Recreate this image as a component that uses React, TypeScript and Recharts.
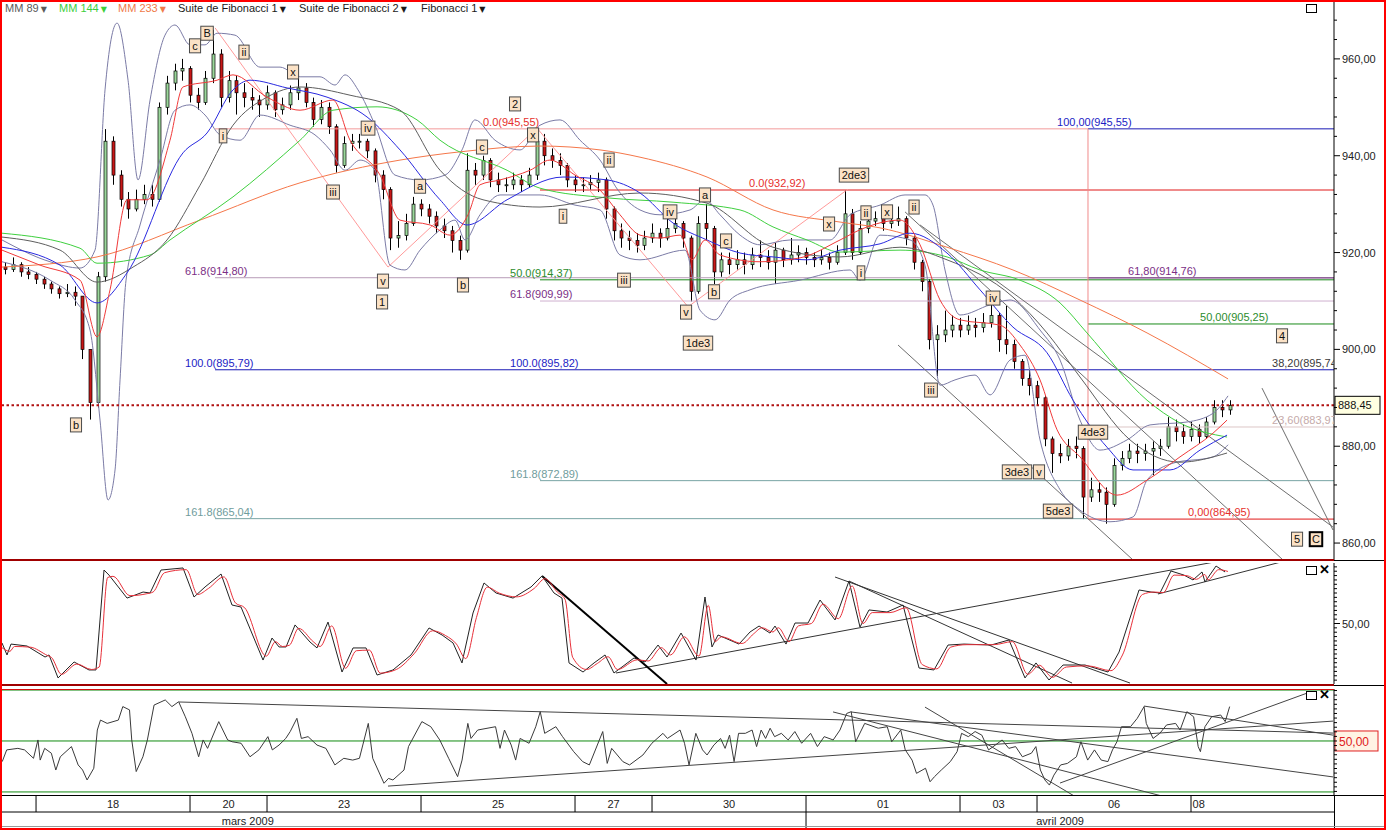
import React from "react";
import { ComposedChart, Bar, Line, Scatter, XAxis, YAxis, ReferenceLine } from "recharts";

const FONT = "'Liberation Sans', Arial, sans-serif";
const W = 1386;

// time axis in trading days: 1 = start of 18 mars
const T_MIN = 0.558;
const T_MAX = 17.857;
const X_DOMAIN = [T_MIN, T_MAX];

// candles every 0.1 day from t=0.6, [high, low, close]
const CANDLE_T0 = 0.6;
const CANDLE_STEP = 0.1;
const FIRST_OPEN = 917;
const PRICE_HLC = [
  [918, 915.5, 916.5], [919, 916, 917.5], [918, 915, 916], [917, 914.5, 915.5], [916, 913.5, 914.5],
  [915, 912.5, 913.5], [914, 911.5, 912.5], [913, 910.5, 911.5], [913.5, 910.8, 911.8], [913, 909, 911],
  [911, 898, 900], [900, 885.5, 889], [916, 888, 915], [945.5, 914, 943], [944, 934, 936],
  [937, 929.5, 931], [932.5, 927, 929], [933, 928.5, 931], [934, 930, 932], [934, 929.5, 931],
  [951, 930.5, 950], [956.5, 948.5, 955], [959, 953.5, 957.5], [960, 955.5, 958], [958.5, 951, 952.5],
  [954, 949.5, 951], [957.5, 950.5, 956], [966, 955, 961], [962, 950, 952], [957.5, 951, 955.5],
  [956.5, 948.5, 953], [955, 950, 952], [954, 949.5, 951.5], [952.5, 948, 950.5], [954.5, 949.5, 953],
  [953.5, 948, 949.5], [952, 948.5, 950.5], [954.5, 949.5, 953], [956, 951.5, 954], [955, 950, 951],
  [952, 946, 947.5], [951.5, 946.5, 950], [951, 944.5, 946], [946.5, 936.5, 938], [944, 937.5, 942.5],
  [944.5, 941, 943], [944.5, 941.5, 943], [943.5, 939.5, 941], [941.5, 934.5, 936], [937, 931, 933],
  [933.5, 920.5, 923], [926.5, 921, 923.5], [928, 922.5, 926], [931.5, 925.5, 930], [931, 927.5, 929],
  [930, 926, 927.5], [928.5, 924, 925.5], [927, 923, 924.5], [925.5, 920, 922.5], [923.5, 918.5, 920.5],
  [940.5, 920, 937], [938.5, 934, 936], [940, 935, 939], [939.5, 933.5, 935], [936.5, 932.5, 934],
  [935.5, 932.5, 934], [936.5, 933, 935], [936, 932.5, 934], [937.5, 933.5, 936], [945.5, 935, 943],
  [944.5, 938, 940], [941.5, 937.5, 939], [940.5, 936, 938], [938.5, 933.5, 935], [936, 932.5, 934],
  [935.5, 932.5, 934], [936, 933, 934.5], [936.5, 932.5, 935], [935.5, 927, 929], [929.5, 922.5, 924.5],
  [926, 921, 923], [924.5, 920.5, 922.5], [924, 920, 921.5], [924.5, 920.5, 923], [926, 922, 924],
  [925, 921, 923], [927, 922.5, 925], [928, 924, 926], [926.5, 921, 923], [923.5, 909.9, 912],
  [927.5, 911.5, 926], [930, 922.5, 925], [925.5, 913.5, 916], [920, 915, 918.5], [920, 915.5, 917.5],
  [920.5, 916.5, 918.5], [920, 915.5, 917.5], [921, 916.5, 919.5], [922.5, 917, 919], [920.5, 916.5, 918],
  [922, 913.5, 920.5], [921, 917, 918.5], [923, 917.5, 919.5], [921.5, 918, 920], [921, 917.5, 919],
  [920, 917, 918.5], [920.5, 917.5, 919], [920, 916.5, 918], [921.5, 917.5, 920], [932.9, 919.5, 928],
  [929, 918.5, 920], [926.5, 919.5, 925], [928, 924, 926.5], [928.5, 925.5, 927], [928, 924.5, 926],
  [928, 925, 926.5], [929.5, 925.5, 927], [927.5, 921.5, 923], [923.5, 916.5, 918], [918.5, 912, 914],
  [914.5, 900, 902], [905, 894.5, 903], [908, 901.5, 904], [907, 902.5, 905], [906.5, 902.5, 904],
  [907, 903, 905], [906.5, 902.5, 904.5], [907.5, 903.5, 905.5], [909.5, 904.5, 907], [907.5, 899.5, 902],
  [909, 899, 901], [902, 896, 897.5], [898, 892.5, 894], [896, 890.5, 892.5], [893.5, 888.5, 890],
  [890.5, 880, 881.5], [882, 874.5, 878.5], [880.5, 876.5, 878], [881.5, 877, 880], [882, 877.5, 879.5],
  [880, 864.95, 869.5], [873.5, 868.5, 871], [872.5, 868.5, 870.5], [871.5, 864, 868], [877.5, 867.5, 876],
  [879, 875, 877.5], [880.5, 876.5, 879], [880.5, 876.5, 878.5], [880.5, 877, 879], [881, 874, 879.5],
  [881.5, 878, 880], [886, 879.5, 884], [885.5, 881, 883], [884.5, 880.5, 882], [885, 881, 883.5],
  [884.5, 880.5, 882], [886, 881.5, 885], [889.5, 884.5, 888], [889.5, 886, 887.5], [889.5, 886.5, 888.45],
];
const LAST_PRICE = 888.45;

// moving averages and bands, [t, price]
const MM_FAST = [
  [0.558, 920.5], [1.052, 917.4], [1.571, 914.3], [1.792, 902.6], [1.961, 912.3], [2.182, 930.9], [2.442, 930.9],
  [2.74, 943.2], [2.909, 954.2], [3.351, 955.6], [3.558, 956.7], [4.0, 952.1], [4.429, 949.4], [4.857, 951.5],
  [5.078, 943.2], [5.468, 936.0], [5.727, 926.7], [6.117, 925.7], [6.377, 923.6], [6.61, 927.8], [6.766, 934.0],
  [7.026, 935.0], [7.416, 937.0], [7.675, 939.1], [8.0, 936.0], [8.325, 932.9], [8.584, 927.8], [8.844, 923.6],
  [9.104, 923.0], [9.364, 923.6], [9.519, 918.5], [9.688, 922.6], [9.883, 919.5], [10.403, 918.1], [10.922, 918.9],
  [11.442, 922.6], [11.701, 924.7], [12.221, 926.7], [12.481, 921.6], [12.74, 910.2], [13.0, 906.1], [13.519, 905.0],
  [13.779, 900.9], [14.039, 893.7], [14.26, 883.4], [14.558, 877.8], [15.039, 869.9], [15.429, 873.0], [15.857, 877.8],
  [16.286, 882.7], [16.468, 885.4],
];
const MM_BLUE = [
  [0.558, 921.1], [1.312, 917.4], [1.792, 909.6], [2.182, 915.8], [2.909, 940.6], [3.221, 944.7], [3.558, 953.6],
  [3.779, 955.6], [4.26, 954.0], [4.779, 952.1], [5.299, 948.0], [5.727, 941.2], [6.247, 930.9], [6.597, 925.7],
  [7.117, 930.9], [7.844, 935.6], [8.416, 935.0], [8.844, 932.3], [9.273, 926.1], [9.714, 922.6], [10.143, 919.9],
  [10.571, 919.1], [11.013, 918.5], [11.442, 920.5], [11.961, 921.8], [12.351, 924.0], [12.831, 919.9], [13.26, 912.3],
  [13.688, 904.6], [14.13, 899.3], [14.468, 889.5], [14.909, 879.8], [15.247, 875.1], [15.727, 875.1], [16.117, 879.2],
  [16.468, 882.3],
];
const MM_89 = [
  [0.558, 923.2], [1.312, 920.5], [1.792, 913.9], [2.26, 917.0], [2.701, 922.6], [3.13, 933.9], [3.558, 946.3],
  [4.0, 952.1], [4.429, 954.2], [5.078, 952.5], [5.727, 949.4], [6.247, 937.0], [6.805, 930.9], [7.545, 929.4],
  [8.844, 932.3], [9.714, 930.2], [10.571, 921.1], [11.442, 919.1], [12.221, 921.1], [12.831, 918.5], [13.688, 910.8],
  [14.13, 903.4], [14.558, 894.3], [15.208, 881.3], [15.857, 876.7], [16.468, 878.6],
];
const MM_144 = [
  [0.558, 924.0], [1.571, 920.9], [1.792, 917.8], [2.481, 919.5], [2.74, 922.6], [3.558, 931.5], [4.429, 943.2],
  [4.857, 949.4], [5.429, 950.1], [5.948, 947.4], [6.247, 943.2], [7.117, 937.0], [7.545, 933.3], [8.416, 931.3],
  [9.273, 930.4], [10.143, 928.8], [10.571, 925.3], [11.013, 922.6], [11.442, 920.1], [12.221, 920.5], [12.831, 919.1],
  [13.26, 916.4], [13.779, 914.3], [14.299, 909.6], [14.649, 903.4], [15.429, 889.5], [15.857, 884.8], [16.468, 881.9],
];
const MM_233 = [
  [0.558, 917.0], [1.792, 919.1], [3.13, 926.7], [4.429, 934.4], [5.727, 939.1], [6.506, 940.8], [7.545, 942.0],
  [8.325, 941.2], [8.844, 939.7], [9.714, 935.6], [10.571, 928.8], [11.442, 926.3], [11.961, 925.1], [12.831, 921.1],
  [13.688, 916.4], [14.558, 910.2], [15.429, 903.4], [16.481, 893.9],
];
const BB_UPPER = [
  [0.558, 922.6], [1.182, 918.1], [1.571, 916.8], [1.766, 920.5], [1.896, 953.6], [2.052, 967.4], [2.195, 955.6],
  [2.325, 935.0], [2.481, 951.5], [2.675, 964.9], [2.805, 967.0], [3.0, 962.9], [3.195, 962.9], [3.351, 965.3],
  [3.584, 964.9], [3.909, 958.3], [4.169, 958.3], [4.429, 956.3], [4.688, 956.3], [4.883, 954.6], [5.013, 956.7],
  [5.182, 953.6], [5.403, 946.3], [5.662, 936.0], [5.987, 935.0], [6.312, 936.0], [6.532, 941.2], [6.701, 947.4],
  [6.961, 943.2], [7.286, 941.2], [7.545, 946.3], [7.805, 947.4], [8.065, 943.2], [8.325, 939.1], [8.558, 932.9],
  [8.844, 928.8], [9.104, 927.8], [9.494, 928.8], [9.688, 930.9], [9.883, 927.8], [10.143, 923.6], [10.403, 921.6],
  [10.792, 922.6], [11.312, 922.6], [11.571, 927.8], [11.961, 929.8], [12.286, 931.9], [12.545, 931.9], [12.649, 929.8],
  [12.805, 916.4], [13.0, 907.1], [13.39, 909.2], [13.649, 910.2], [14.039, 904.0], [14.299, 897.8], [14.558, 885.4],
  [14.818, 879.2], [15.169, 881.3], [15.468, 884.4], [15.948, 885.0], [16.286, 886.8], [16.481, 890.4],
];
const BB_LOWER = [
  [0.558, 918.1], [1.182, 914.3], [1.506, 910.2], [1.701, 904.0], [1.831, 885.4], [1.935, 868.9], [2.026, 875.1],
  [2.091, 893.7], [2.169, 914.3], [2.351, 925.7], [2.61, 939.1], [2.805, 949.4], [3.0, 950.5], [3.195, 948.4],
  [3.39, 944.3], [3.649, 943.2], [3.909, 948.4], [4.299, 946.3], [4.623, 944.3], [4.818, 941.2], [5.013, 937.0],
  [5.208, 939.1], [5.403, 937.0], [5.597, 917.4], [5.792, 916.4], [5.987, 920.5], [6.247, 924.7], [6.442, 926.7],
  [6.571, 922.6], [6.766, 927.8], [7.026, 931.9], [7.545, 931.9], [8.0, 929.8], [8.325, 928.8], [8.584, 919.5],
  [8.844, 918.5], [9.429, 920.5], [9.623, 908.1], [9.818, 906.1], [10.013, 910.2], [10.273, 912.3], [10.922, 914.3],
  [11.571, 916.4], [11.701, 914.3], [11.961, 923.6], [12.351, 922.6], [12.545, 917.4], [12.74, 892.6], [12.935, 893.7],
  [13.195, 894.7], [13.39, 890.6], [13.649, 897.8], [13.844, 898.8], [14.039, 881.3], [14.299, 871.0], [14.558, 866.8],
  [14.948, 864.4], [15.247, 865.4], [15.429, 873.0], [15.766, 876.5], [16.286, 877.8], [16.481, 880.3],
];

// fibonacci levels: from t, to t, price
const FIB_LEVELS = [
  { from: 3.325, to: 14.662, price: 945.55, kind: "redPale" },
  { from: 14.662, to: T_MAX, price: 945.55, kind: "blue" },
  { from: 7.545, to: T_MAX, price: 932.92, kind: "red" },
  { from: 3.325, to: T_MAX, price: 914.8, kind: "mauve" },
  { from: 14.662, to: T_MAX, price: 914.76, kind: "purple" },
  { from: 7.545, to: T_MAX, price: 914.37, kind: "green" },
  { from: 7.545, to: T_MAX, price: 909.99, kind: "lilac" },
  { from: 14.662, to: T_MAX, price: 905.25, kind: "green" },
  { from: 3.325, to: T_MAX, price: 895.79, kind: "blue" },
  { from: 14.662, to: T_MAX, price: 883.97, kind: "rose" },
  { from: 7.545, to: T_MAX, price: 872.89, kind: "teal" },
  { from: 3.325, to: 14.662, price: 865.04, kind: "teal" },
  { from: 14.662, to: T_MAX, price: 864.95, kind: "red" },
];
const FIB_TEXTS = [
  { t: 6.805, p: 945.55, text: "0.0(945,55)", kind: "red" },
  { t: 10.26, p: 932.92, text: "0.0(932,92)", kind: "red" },
  { t: 2.935, p: 914.8, text: "61.8(914,80)", kind: "purple" },
  { t: 2.935, p: 895.79, text: "100.0(895,79)", kind: "blue" },
  { t: 2.935, p: 865.04, text: "161.8(865,04)", kind: "teal" },
  { t: 7.156, p: 914.37, text: "50.0(914,37)", kind: "green" },
  { t: 7.156, p: 909.99, text: "61.8(909,99)", kind: "purple" },
  { t: 7.156, p: 895.82, text: "100.0(895,82)", kind: "blue" },
  { t: 7.156, p: 872.89, text: "161.8(872,89)", kind: "teal" },
  { t: 14.26, p: 945.55, text: "100,00(945,55)", kind: "blue" },
  { t: 15.182, p: 914.76, text: "61,80(914,76)", kind: "purple" },
  { t: 16.117, p: 905.25, text: "50,00(905,25)", kind: "green" },
  { t: 17.052, p: 895.74, text: "38,20(895,74", kind: "dark" },
  { t: 17.052, p: 883.97, text: "23,60(883,97", kind: "rose" },
  { t: 15.961, p: 864.95, text: "0,00(864,95)", kind: "red" },
];
const FIB_VERTICAL = [14.662, 945.55, 864.95];

const WAVE_LABELS = [
  { t: 1.519, p: 884.4, text: "b" }, { t: 3.065, p: 962.7, text: "c" }, { t: 3.221, p: 965.3, text: "B" },
  { t: 3.701, p: 961.4, text: "ii" }, { t: 3.429, p: 944.1, text: "i" }, { t: 4.338, p: 957.3, text: "x" },
  { t: 5.312, p: 945.7, text: "iv" }, { t: 4.857, p: 932.5, text: "iii" }, { t: 5.987, p: 933.7, text: "a" },
  { t: 5.506, p: 914.1, text: "v" }, { t: 5.494, p: 909.8, text: "1" }, { t: 6.545, p: 913.3, text: "b" },
  { t: 7.221, p: 950.7, text: "2" }, { t: 6.792, p: 941.8, text: "c" }, { t: 7.455, p: 944.3, text: "x" },
  { t: 7.844, p: 927.5, text: "i" }, { t: 8.442, p: 939.1, text: "ii" }, { t: 8.636, p: 914.3, text: "iii" },
  { t: 9.234, p: 928.4, text: "iv" }, { t: 9.688, p: 931.9, text: "a" }, { t: 9.961, p: 922.4, text: "c" },
  { t: 9.805, p: 911.9, text: "b" }, { t: 9.442, p: 907.7, text: "v" }, { t: 9.597, p: 901.3, text: "1de3" },
  { t: 11.299, p: 925.9, text: "x" }, { t: 11.623, p: 936.0, text: "2de3" }, { t: 11.779, p: 928.2, text: "ii" },
  { t: 12.052, p: 928.4, text: "x" }, { t: 12.403, p: 929.4, text: "ii" }, { t: 11.714, p: 915.8, text: "i" },
  { t: 13.429, p: 910.6, text: "iv" }, { t: 12.623, p: 891.6, text: "iii" }, { t: 14.727, p: 882.9, text: "4de3" },
  { t: 13.74, p: 874.7, text: "3de3" }, { t: 14.026, p: 874.7, text: "v" }, { t: 14.273, p: 866.6, text: "5de3" },
  { t: 17.182, p: 902.8, text: "4" }, { t: 17.377, p: 860.8, text: "5" }, { t: 17.623, p: 860.8, text: "C" },
];
// [t1, p1, t2, p2]
const WAVE_LINES = [
  [3.325, 966.4, 5.571, 917.0], [5.571, 917.0, 7.506, 945.7],
  [7.506, 945.7, 9.468, 908.8], [9.468, 908.8, 11.545, 933.1],
];
const PRICE_TRENDS = [
  [12.195, 900.9, 15.247, 856.5], [12.286, 928.4, 17.195, 856.5],
  [12.481, 925.7, 17.844, 863.3], [16.922, 892.0, 17.844, 862.7],
];

// stochastic pane, [t, value]
const STOCH_K = [
  [0.558, 33.9], [0.623, 24], [0.675, 33], [0.883, 31.4], [1.117, 22.3], [1.169, 24], [1.286, 5], [1.494, 18.2],
  [1.688, 11.6], [1.779, 11.6], [1.883, 94.2], [1.948, 90], [2.182, 71], [2.39, 76], [2.481, 75.2], [2.623, 94.2],
  [2.909, 95.9], [3.052, 71.9], [3.195, 80.2], [3.403, 90.9], [3.545, 65.3], [3.662, 63.6], [3.948, 19.8], [4.065, 38],
  [4.156, 30.6], [4.247, 30.6], [4.364, 48.8], [4.558, 34.7], [4.649, 29.8], [4.792, 51.2], [4.974, 9.9], [5.117, 29.8],
  [5.286, 29.8], [5.429, 7.4], [5.636, 11.6], [5.87, 24], [6.104, 46.3], [6.273, 40.5], [6.416, 33.9], [6.532, 17.4],
  [6.675, 58.7], [6.818, 83.5], [6.974, 75.2], [7.195, 71], [7.429, 80.2], [7.571, 89.3], [7.727, 75.2], [7.831, 71],
  [7.922, 17.4], [8.104, 9.9], [8.247, 17.4], [8.39, 24], [8.506, 9.1], [8.766, 21.5], [8.909, 18.2], [9.078, 32.2],
  [9.195, 22.3], [9.377, 42.1], [9.571, 19.8], [9.688, 71.9], [9.779, 30.6], [9.857, 40.5], [10.13, 33], [10.273, 43],
  [10.39, 47.9], [10.532, 42.1], [10.597, 47.9], [10.74, 33], [10.857, 50.4], [11.026, 50.4], [11.182, 69.4], [11.377, 52.9],
  [11.558, 85.1], [11.701, 47.1], [11.818, 61.2], [12.052, 59.5], [12.26, 65.3], [12.468, 13.2], [12.662, 11.6], [12.844, 32.2],
  [13.052, 33], [13.403, 32.2], [13.636, 36.4], [13.844, 5], [13.987, 17.4], [14.156, 3.3], [14.338, 15.7], [14.623, 15.7],
  [14.922, 9.9], [15.065, 26.4], [15.325, 77.7], [15.481, 76], [15.597, 75.2], [15.74, 93.4], [15.909, 90], [16.026, 86],
  [16.143, 92.6], [16.182, 84.3], [16.325, 97.5], [16.442, 92.6],
];
const STOCH_D = [
  [0.558, 30], [0.66, 27], [0.72, 31], [0.92, 30.5], [1.15, 23.5], [1.2, 22], [1.33, 8], [1.53, 16.5], [1.72, 12],
  [1.82, 14], [1.93, 88], [2.0, 89], [2.22, 73], [2.43, 74.5], [2.52, 76], [2.67, 92], [2.95, 94.5], [3.1, 74],
  [3.24, 79], [3.44, 88.5], [3.59, 67], [3.71, 63], [3.99, 23], [4.11, 35], [4.2, 31], [4.29, 32], [4.41, 46],
  [4.6, 35], [4.69, 31], [4.84, 48], [5.02, 13], [5.16, 27.5], [5.33, 28], [5.47, 9], [5.68, 12], [5.91, 25],
  [6.15, 44], [6.32, 40], [6.46, 33], [6.58, 21], [6.72, 55], [6.86, 80], [7.02, 75], [7.24, 72], [7.47, 79],
  [7.61, 87], [7.77, 76], [7.87, 70], [7.97, 22], [8.15, 12], [8.29, 17], [8.43, 22.5], [8.55, 12], [8.81, 20],
  [8.95, 19], [9.12, 30], [9.24, 24], [9.42, 39], [9.61, 23], [9.73, 65], [9.82, 35], [9.9, 39], [10.17, 33.5],
  [10.32, 41.5], [10.43, 46.5], [10.57, 43], [10.64, 46.5], [10.78, 35], [10.9, 48], [11.07, 50], [11.22, 66],
  [11.42, 54], [11.6, 81], [11.74, 50], [11.86, 59], [12.09, 59], [12.3, 63], [12.51, 16], [12.7, 12.5], [12.88, 30.5],
  [13.09, 32.5], [13.44, 32.5], [13.68, 35], [13.88, 8], [14.03, 15.5], [14.2, 5.5], [14.38, 14], [14.66, 15],
  [14.96, 11], [15.11, 24], [15.37, 74], [15.52, 76], [15.64, 75.5], [15.78, 90], [15.95, 89.5], [16.07, 86.5],
  [16.18, 90.5], [16.22, 86], [16.36, 94.5], [16.48, 93],
];
const STOCH_BREAK = [7.571, 89.3, 9.195, 0];
const STOCH_TRENDS = [
  [8.532, 9.1, 16.377, 101.7], [11.377, 88.4, 15.208, 0.8],
  [11.558, 85.1, 14.455, 0.8], [15.571, 74.4, 17.221, 101.7],
];

// lower oscillator, [t, value]
const OSC = [
  [0.561, 41.9], [0.619, 46.5], [0.764, 47.1], [0.851, 46.5], [0.967, 43.2], [1.025, 50.4], [1.054, 42.5], [1.112, 47.1],
  [1.199, 45.2], [1.257, 38.6], [1.315, 43.8], [1.46, 47.8], [1.547, 40.6], [1.605, 38.6], [1.663, 34.7], [1.75, 39.3],
  [1.796, 54.3], [1.837, 58.2], [1.924, 56.9], [2.069, 58.2], [2.127, 63.5], [2.214, 62.2], [2.243, 50.4], [2.301, 38.0],
  [2.388, 43.8], [2.446, 50.4], [2.533, 64.1], [2.678, 66.1], [2.765, 63.5], [2.852, 65.4], [2.939, 59.5], [3.025, 53.0],
  [3.112, 43.8], [3.17, 50.4], [3.228, 47.1], [3.373, 57.6], [3.489, 50.4], [3.547, 49.7], [3.663, 49.1], [3.779, 43.8],
  [3.895, 46.5], [4.011, 51.7], [4.069, 46.5], [4.156, 48.4], [4.243, 51.0], [4.301, 53.7], [4.388, 58.9], [4.446, 51.0],
  [4.533, 51.7], [4.649, 48.4], [4.765, 47.1], [4.881, 40.6], [4.997, 43.2], [5.113, 42.5], [5.2, 43.2], [5.315, 56.9],
  [5.373, 43.2], [5.519, 33.4], [5.577, 35.3], [5.635, 34.7], [5.779, 38.6], [5.837, 47.8], [6.011, 57.6], [6.127, 55.6],
  [6.243, 50.4], [6.359, 43.2], [6.475, 36.0], [6.533, 42.5], [6.608, 56.9], [6.649, 51.0], [6.736, 54.3], [6.968, 55.6],
  [7.026, 47.1], [7.084, 54.3], [7.171, 48.4], [7.229, 42.5], [7.287, 51.0], [7.403, 49.1], [7.49, 55.6], [7.548, 61.5],
  [7.606, 53.0], [7.751, 55.6], [7.838, 51.7], [7.983, 45.8], [8.099, 41.9], [8.186, 40.6], [8.36, 53.7], [8.418, 41.2],
  [8.476, 47.1], [8.621, 41.9], [8.708, 40.6], [8.882, 44.5], [8.998, 49.1], [9.142, 53.0], [9.2, 51.0], [9.364, 54.3],
  [9.422, 49.1], [9.481, 40.6], [9.569, 53.0], [9.656, 46.5], [9.715, 44.5], [9.803, 48.4], [9.89, 51.0], [9.949, 47.1],
  [10.007, 52.3], [10.066, 41.9], [10.124, 53.0], [10.212, 53.0], [10.3, 54.3], [10.358, 47.8], [10.417, 54.3], [10.475, 51.0],
  [10.534, 55.0], [10.592, 51.7], [10.68, 53.0], [10.768, 50.4], [10.855, 53.7], [10.943, 49.1], [11.06, 53.0], [11.148, 47.8],
  [11.236, 51.7], [11.353, 50.4], [11.441, 54.3], [11.528, 60.8], [11.587, 61.5], [11.645, 49.7], [11.762, 56.9], [11.938, 55.0],
  [12.055, 55.6], [12.113, 49.7], [12.23, 54.3], [12.289, 46.5], [12.377, 42.5], [12.435, 37.3], [12.552, 39.3], [12.611, 34.0],
  [12.669, 36.0], [12.757, 38.6], [12.874, 41.9], [12.962, 45.8], [13.02, 53.0], [13.108, 51.7], [13.196, 53.7], [13.283, 52.3],
  [13.371, 46.5], [13.459, 48.4], [13.547, 50.4], [13.634, 47.1], [13.722, 47.8], [13.81, 43.8], [13.927, 45.2], [13.985, 47.8],
  [14.044, 38.6], [14.102, 34.7], [14.161, 32.7], [14.219, 36.6], [14.307, 40.6], [14.395, 41.2], [14.512, 43.8], [14.57, 49.7],
  [14.658, 42.5], [14.746, 46.5], [14.834, 42.5], [14.921, 41.9], [14.98, 46.5], [15.038, 49.7], [15.097, 55.6], [15.214, 55.6],
  [15.302, 58.9], [15.39, 63.5], [15.419, 56.9], [15.507, 51.0], [15.595, 53.0], [15.683, 56.3], [15.8, 56.9], [15.858, 54.3],
  [15.946, 61.5], [16.034, 59.5], [16.093, 47.8], [16.122, 45.8], [16.181, 55.6], [16.268, 59.5], [16.385, 60.2], [16.444, 57.6],
  [16.502, 63.5],
];
const OSC_LEVELS = [30, 50, 70];
const OSC_TRENDS = [
  [2.857, 65.3, 17.844, 53.1], [5.571, 32.3, 17.844, 57.8], [11.351, 61.4, 15.675, 28.0],
  [12.545, 63.3, 14.506, 28.0], [11.584, 61.4, 17.844, 35.9], [14.299, 33.5, 17.545, 69.2],
  [15.39, 63.7, 17.844, 52.3],
];

// date axis
const DAY_TEXTS = [["18", 2], ["20", 3.5], ["23", 5], ["25", 7], ["27", 8.5], ["30", 10], ["01", 12], ["03", 13.5], ["06", 15], ["08", 16.1]];
const DAY_BREAKS = [1, 3, 4, 6, 8, 9, 11, 13, 14, 16];
const MONTH_TEXTS = [["mars 2009", 3.75], ["avril 2009", 14.3]];
const MONTH_BREAK = 11;

const LINE_COLORS: any = {
  redPale: "#f39a9a", red: "#e01818", blue: "#1818b4", mauve: "#b89cb8", purple: "#6a2a7a",
  green: "#1a8a1a", lilac: "#cfb0cf", rose: "#dcc6c6", teal: "#78a5a5",
};
const TEXT_COLORS: any = {
  red: "#e6302c", purple: "#7b2f86", green: "#2c8c2c", blue: "#1c1cc4", teal: "#6f9c9c", dark: "#3a3a3a", rose: "#c5aaaa",
};

const candleRows = PRICE_HLC.map(([h, l, c], i) => ({
  t: +(CANDLE_T0 + i * CANDLE_STEP).toFixed(2),
  o: i === 0 ? FIRST_OPEN : PRICE_HLC[i - 1][2],
  h, l, c,
}));
const pts = (arr: number[][], key = "p") => arr.map(([t, v]) => ({ t, [key]: v }));

const fmt = (v: number) => v.toFixed(2).replace(".", ",");
const PRICE_TICKS = Array.from({ length: 28 }, (_, i) => 860 + i * 4);
const STOCH_TICKS = Array.from({ length: 29 }, (_, i) => 50 + (i - 14) * 3.6).filter((v) => v >= 0 && v <= 100);
const OSC_TICKS = Array.from({ length: 25 }, (_, i) => 50 + (i - 12) * 1.8).filter((v) => v > 28.8 && v < 70.4);

function Candle(props: any) {
  const { x, y, width, height, payload } = props;
  if (x == null || !payload) return null;
  const top = Math.min(y, y + height);
  const span = Math.abs(height);
  const range = payload.h - payload.l || 1;
  const py = (v: number) => top + ((payload.h - v) / range) * span;
  const cx = Math.round(x + width / 2) + 0.5;
  const yo = py(payload.o);
  const yc = py(payload.c);
  const up = payload.c >= payload.o;
  return (
    <g>
      <line x1={cx} x2={cx} y1={top} y2={top + span} stroke="#000" strokeWidth={1} />
      <rect x={cx - 1.5} y={Math.min(yo, yc)} width={3} height={Math.max(1, Math.abs(yo - yc))}
        fill={up ? "#9bd79b" : "#c81818"} stroke="#000" strokeWidth={0.7} />
    </g>
  );
}

function boxWidth(s: string) {
  let w = 5;
  for (const ch of s) w += ch === "i" ? 2.6 : ch === "B" || ch === "C" ? 7.5 : 6.1;
  return w;
}

function WaveBox(props: any) {
  const { cx, cy, payload } = props;
  if (cx == null) return null;
  const w = boxWidth(payload.text);
  const strong = payload.text === "C";
  return (
    <g>
      <rect x={cx - w / 2} y={cy - 7} width={w} height={14} fill="#fbe2c6"
        stroke={strong ? "#000" : "#4a4a4a"} strokeWidth={strong ? 2 : 1} />
      <text x={cx} y={cy + 4} textAnchor="middle" fontSize={11} fontFamily={FONT} fill="#111">{payload.text}</text>
    </g>
  );
}

function FibText(props: any) {
  const { cx, cy, payload } = props;
  if (cx == null) return null;
  return (
    <text x={cx} y={cy - 3} fontSize={11} fontFamily={FONT} fill={TEXT_COLORS[payload.kind]}>{payload.text}</text>
  );
}

function AxisText(props: any) {
  const { cx, cy, payload } = props;
  if (cx == null) return null;
  return (
    <text x={cx} y={cy + 4} textAnchor="middle" fontSize={11} fontFamily={FONT} fill="#222">{payload.text}</text>
  );
}

function PriceTick(props: any) {
  const { x, y, payload } = props;
  const major = payload.value % 20 === 0;
  return (
    <g>
      <line x1={x} x2={x + (major ? 6 : 3)} y1={y} y2={y} stroke="#000" />
      {major && (
        <text x={x + 8} y={y + 4} fontSize={11} fontFamily={FONT} fill="#222">{fmt(payload.value)}</text>
      )}
    </g>
  );
}

function StochTick(props: any) {
  const { x, y, payload } = props;
  const mid = Math.abs(payload.value - 50) < 0.01;
  return (
    <g>
      <line x1={x} x2={x + (mid ? 6 : 3)} y1={y} y2={y} stroke="#000" />
      {mid && <text x={x + 8} y={y + 4} fontSize={11} fontFamily={FONT} fill="#222">50,00</text>}
    </g>
  );
}

function MinorTick(props: any) {
  const { x, y } = props;
  return <line x1={x} x2={x + 3} y1={y} y2={y} stroke="#000" />;
}

function PriceTag(props: any) {
  const vb = props.viewBox;
  if (!vb) return null;
  const x = vb.x + vb.width + 1;
  return (
    <g>
      <rect x={x} y={vb.y - 9} width={45} height={18} fill="#ffffe1" stroke="#000" />
      <text x={x + 3} y={vb.y + 4} fontSize={11} fontFamily={FONT} fill="#111">{fmt(LAST_PRICE)}</text>
    </g>
  );
}

function OscTag(props: any) {
  const vb = props.viewBox;
  if (!vb) return null;
  const x = vb.x + vb.width + 1;
  return (
    <g>
      <rect x={x} y={vb.y - 10} width={43} height={20} fill="#fff3e4" stroke="#e02020" />
      <text x={x + 4} y={vb.y + 5} fontSize={12} fontFamily={FONT} fill="#e02020">50,00</text>
    </g>
  );
}

const seg = (a: number[]) => [{ x: a[0], y: a[1] }, { x: a[2], y: a[3] }];
const MARGIN = { top: 2, right: 2, bottom: 1, left: 2 };

function PricePane() {
  return (
    <ComposedChart width={W} height={561} data={candleRows} margin={MARGIN}>
      <XAxis type="number" dataKey="t" domain={X_DOMAIN} hide allowDataOverflow />
      <YAxis orientation="right" width={50} domain={[856.5, 971.75]} allowDataOverflow ticks={PRICE_TICKS}
        interval={0} tick={PriceTick} tickLine={false} tickSize={0} tickMargin={0} axisLine={{ stroke: "#000" }} />
      {FIB_LEVELS.map((f, i) => (
        <ReferenceLine key={"f" + i} segment={[{ x: f.from, y: f.price }, { x: f.to, y: f.price }]}
          stroke={LINE_COLORS[f.kind]} strokeWidth={1} ifOverflow="hidden" />
      ))}
      <ReferenceLine segment={[{ x: FIB_VERTICAL[0], y: FIB_VERTICAL[1] }, { x: FIB_VERTICAL[0], y: FIB_VERTICAL[2] }]}
        stroke="#f08a8a" ifOverflow="hidden" />
      {WAVE_LINES.map((l, i) => (
        <ReferenceLine key={"w" + i} segment={seg(l)} stroke="#ff9a9a" ifOverflow="hidden" />
      ))}
      {PRICE_TRENDS.map((l, i) => (
        <ReferenceLine key={"p" + i} segment={seg(l)} stroke="#6e6e6e" ifOverflow="hidden" />
      ))}
      <Line data={pts(BB_UPPER)} dataKey="p" type="monotone" stroke="#7b7ba6" strokeWidth={1} dot={false} isAnimationActive={false} />
      <Line data={pts(BB_LOWER)} dataKey="p" type="monotone" stroke="#7b7ba6" strokeWidth={1} dot={false} isAnimationActive={false} />
      <Line data={pts(MM_233)} dataKey="p" type="monotone" stroke="#f5774a" strokeWidth={1} dot={false} isAnimationActive={false} />
      <Line data={pts(MM_144)} dataKey="p" type="monotone" stroke="#3fd03f" strokeWidth={1} dot={false} isAnimationActive={false} />
      <Line data={pts(MM_89)} dataKey="p" type="monotone" stroke="#5e5e5e" strokeWidth={1} dot={false} isAnimationActive={false} />
      <Line data={pts(MM_BLUE)} dataKey="p" type="monotone" stroke="#2a2ae0" strokeWidth={1} dot={false} isAnimationActive={false} />
      <Line data={pts(MM_FAST)} dataKey="p" type="monotone" stroke="#f03a3a" strokeWidth={1} dot={false} isAnimationActive={false} />
      <Bar dataKey={(d: any) => [d.l, d.h]} barSize={4} shape={Candle} isAnimationActive={false} />
      <ReferenceLine y={LAST_PRICE} stroke="#b01010" strokeWidth={2} strokeDasharray="2.5 2.5" label={PriceTag} />
      <Scatter data={FIB_TEXTS} dataKey="p" shape={FibText} isAnimationActive={false} />
      <Scatter data={WAVE_LABELS} dataKey="p" shape={WaveBox} isAnimationActive={false} />
    </ComposedChart>
  );
}

function StochPane() {
  return (
    <ComposedChart width={W} height={124} margin={MARGIN}>
      <XAxis type="number" dataKey="t" domain={X_DOMAIN} hide allowDataOverflow />
      <YAxis orientation="right" width={50} domain={[0, 100]} allowDataOverflow ticks={STOCH_TICKS} interval={0}
        tick={StochTick} tickLine={false} tickSize={0} tickMargin={0} axisLine={{ stroke: "#000" }} />
      {STOCH_TRENDS.map((l, i) => (
        <ReferenceLine key={"s" + i} segment={seg(l)} stroke="#333" ifOverflow="hidden" />
      ))}
      <ReferenceLine segment={seg(STOCH_BREAK)} stroke="#000" strokeWidth={2} ifOverflow="hidden" />
      <Line data={pts(STOCH_K, "v")} dataKey="v" type="linear" stroke="#222" strokeWidth={1} dot={false} isAnimationActive={false} />
      <Line data={pts(STOCH_D, "v")} dataKey="v" type="monotone" stroke="#e8303a" strokeWidth={1} dot={false} isAnimationActive={false} />
    </ComposedChart>
  );
}

function OscPane() {
  return (
    <ComposedChart width={W} height={109} margin={MARGIN}>
      <XAxis type="number" dataKey="t" domain={X_DOMAIN} hide allowDataOverflow />
      <YAxis orientation="right" width={50} domain={[28.8, 70.4]} allowDataOverflow ticks={OSC_TICKS} interval={0}
        tick={MinorTick} tickLine={false} tickSize={0} tickMargin={0} axisLine={{ stroke: "#000" }} />
      {OSC_LEVELS.map((v) => (
        <ReferenceLine key={"l" + v} y={v} stroke="#108a10" strokeWidth={1} label={v === 50 ? OscTag : undefined} />
      ))}
      {OSC_TRENDS.map((l, i) => (
        <ReferenceLine key={"o" + i} segment={seg(l)} stroke="#444" ifOverflow="hidden" />
      ))}
      <Line data={pts(OSC, "v")} dataKey="v" type="linear" stroke="#3a3a3a" strokeWidth={1} dot={false} isAnimationActive={false} />
    </ComposedChart>
  );
}

function DatePane() {
  const texts = [
    ...DAY_TEXTS.map(([text, t]) => ({ t, row: 1.5, text })),
    ...MONTH_TEXTS.map(([text, t]) => ({ t, row: 0.5, text })),
  ];
  return (
    <ComposedChart width={W} height={34} margin={{ top: 0, right: 52, bottom: 0, left: 2 }}>
      <XAxis type="number" dataKey="t" domain={X_DOMAIN} hide allowDataOverflow />
      <YAxis type="number" domain={[0, 2]} hide allowDataOverflow />
      {DAY_BREAKS.map((t) => (
        <ReferenceLine key={"d" + t} segment={[{ x: t, y: 1 }, { x: t, y: 2 }]} stroke="#000" />
      ))}
      <ReferenceLine segment={[{ x: MONTH_BREAK, y: 0 }, { x: MONTH_BREAK, y: 1 }]} stroke="#000" />
      <ReferenceLine y={1} stroke="#000" />
      <Scatter data={texts} dataKey="row" shape={AxisText} isAnimationActive={false} />
    </ComposedChart>
  );
}

const abs = (style: any) => ({ position: "absolute" as const, ...style });

function Icons({ top, close }: { top: number; close: boolean }) {
  return (
    <>
      <div style={abs({ left: 1306, top, width: 9, height: 7, border: "1.5px solid #000", background: "#fff" })} />
      {close && (
        <div style={abs({ left: 1319, top: top - 3, fontSize: 13, fontWeight: 700, fontFamily: FONT, lineHeight: "14px" })}>✕</div>
      )}
    </>
  );
}

export default function App() {
  const legend = [
    { text: "MM 89", x: 5, color: "#5a5a5a" },
    { text: "MM 144", x: 59, color: "#3ccf3c" },
    { text: "MM 233", x: 118, color: "#f07a4a" },
    { text: "Suite de Fibonacci 1", x: 178, color: "#1a1a1a" },
    { text: "Suite de Fibonacci 2", x: 299, color: "#1a1a1a" },
    { text: "Fibonacci 1", x: 421, color: "#1a1a1a" },
  ];
  return (
    <div style={{ position: "relative", width: 1386, height: 830, background: "#fff", overflow: "hidden", fontFamily: FONT }}>
      <style>{"body{margin:0;}"}</style>
      <div style={abs({ left: 0, top: 0 })}><PricePane /></div>
      <div style={abs({ left: 0, top: 561 })}><StochPane /></div>
      <div style={abs({ left: 0, top: 687 })}><OscPane /></div>
      <div style={abs({ left: 0, top: 795 })}><DatePane /></div>

      {legend.map((l) => (
        <div key={l.text} style={abs({ left: l.x, top: 2, fontSize: 11, color: l.color, whiteSpace: "nowrap" })}>
          {l.text}<span style={{ fontSize: 8, marginLeft: 2, fontFamily: "DejaVu Sans" }}>▼</span>
        </div>
      ))}

      <Icons top={4} close={false} />
      <Icons top={566} close />
      <Icons top={691} close />

      {/* pane separators */}
      <div style={abs({ left: 2, top: 559, width: 1332, height: 2, background: "#a00000" })} />
      <div style={abs({ left: 1334, top: 560, width: 50, height: 1, background: "#000" })} />
      <div style={abs({ left: 2, top: 684, width: 1332, height: 2, background: "#a00000" })} />
      <div style={abs({ left: 1334, top: 685, width: 50, height: 1, background: "#000" })} />
      <div style={abs({ left: 2, top: 689, width: 1332, height: 1, background: "#d81010" })} />
      <div style={abs({ left: 2, top: 795, width: 1382, height: 1, background: "#000" })} />
      <div style={abs({ left: 1334, top: 795, width: 1, height: 33, background: "#000" })} />
      <div style={abs({ left: 2, top: 826, width: 1382, height: 1, background: "#999" })} />
      <div style={abs({ left: 0, top: 0, width: 1386, height: 830, border: "2px solid #ff0000", boxSizing: "border-box" })} />
    </div>
  );
}
